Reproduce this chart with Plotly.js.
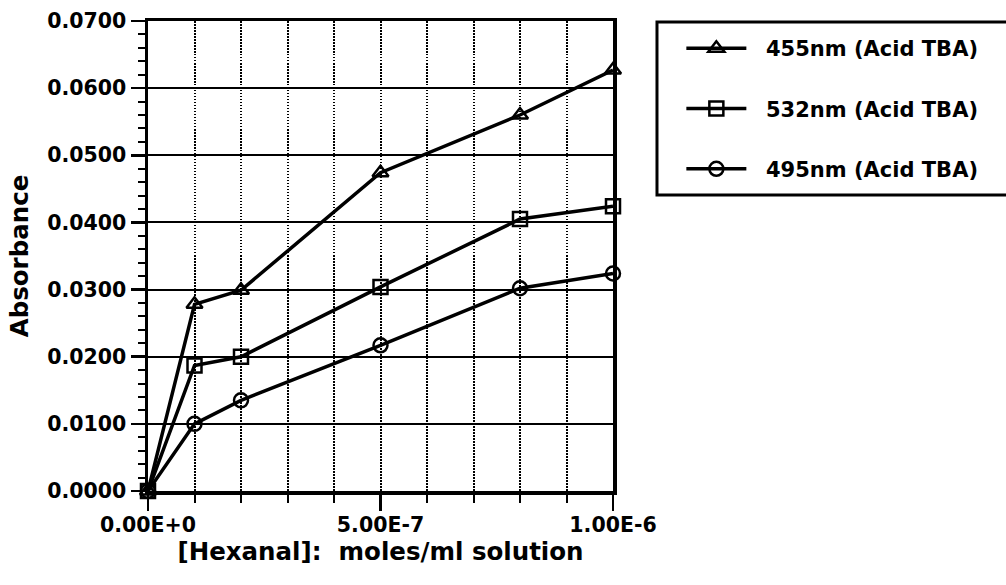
<!DOCTYPE html>
<html>
<head>
<meta charset="utf-8">
<script src="https://cdn.plot.ly/plotly-3.0.1.min.js"></script>
<style>
  html, body { margin: 0; padding: 0; background: #fff; }
  #chart { width: 1006px; height: 585px; }
</style>
</head>
<body>
<div id="chart"></div>
<script>
// Hexanal concentration (moles/ml solution)
const concentration = [0, 1e-7, 2e-7, 5e-7, 8e-7, 1e-6];

// Absorbance readings for each wavelength
const abs455 = [0, 0.0278, 0.0299, 0.0474, 0.0560, 0.0627];
const abs532 = [0, 0.0187, 0.0200, 0.0304, 0.0405, 0.0424];
const abs495 = [0, 0.0100, 0.0135, 0.0217, 0.0302, 0.0324];

const seriesNames = ['455nm (Acid TBA)', '532nm (Acid TBA)', '495nm (Acid TBA)'];

const xTickVals = [0, 5e-7, 1e-6];
const xTickText = ['0.00E+0', '5.00E-7', '1.00E-6'];

const LABEL_FONT = { family: 'DejaVu Sans', size: 20.5, color: '#000', weight: 'bold' };
const LEGEND_FONT = { family: 'DejaVu Sans', size: 21, color: '#000', weight: 'bold' };
const TITLE_FONT = { family: 'DejaVu Sans', size: 24.5, color: '#000', weight: 'bold' };

function series(y, name, symbol, group) {
  return {
    x: concentration,
    y: y,
    name: '\u00a0\u00a0' + name,
    legendgroup: group,
    type: 'scatter',
    mode: 'lines+markers',
    line: { color: '#000', width: 3.5 },
    marker: { symbol: symbol, size: 14, color: '#000', line: { color: '#000', width: 2.5 } },
    cliponaxis: false
  };
}

const traces = [
  series(abs455, seriesNames[0], 'triangle-up-open', 'a'),
  series(abs532, seriesNames[1], 'square-open', 'b'),
  series(abs495, seriesNames[2], 'circle-open', 'c')
];

const layout = {
  width: 1006,
  height: 585,
  margin: { l: 148, r: 393, t: 21, b: 94 },
  paper_bgcolor: '#fff',
  plot_bgcolor: '#fff',
  showlegend: true,
  legend: {
    x: 1.147,
    xanchor: 'left',
    y: 0.985,
    yanchor: 'top',
    bgcolor: 'rgba(0,0,0,0)',
    borderwidth: 0,
    font: LEGEND_FONT,
    tracegroupgap: 30,
    itemwidth: 60
  },
  xaxis: {
    range: [0, 1e-6],
    tickmode: 'array',
    tickvals: xTickVals,
    ticktext: xTickText,
    ticks: 'outside',
    ticklen: 16,
    tickwidth: 2.5,
    tickcolor: '#000',
    tickfont: LABEL_FONT,
    ticklabelstandoff: -3,
    showline: true,
    linecolor: '#000',
    linewidth: 3.5,
    mirror: true,
    zeroline: false,
    showgrid: true,
    gridcolor: '#000',
    gridwidth: 2,
    griddash: '1.5px,1.5px',
    minor: {
      tickmode: 'linear',
      tick0: 0,
      dtick: 1e-7,
      ticks: 'outside',
      ticklen: 8,
      tickwidth: 2,
      tickcolor: '#000',
      showgrid: true,
      gridcolor: '#000',
      gridwidth: 2,
      griddash: '1.5px,1.5px'
    },
    title: { text: '[Hexanal]: \u00a0moles/ml solution', font: TITLE_FONT, standoff: 4 }
  },
  yaxis: {
    range: [0, 0.07],
    tickmode: 'linear',
    tick0: 0,
    dtick: 0.01,
    tickformat: '.4f',
    ticks: 'outside',
    ticklen: 14,
    tickwidth: 2.5,
    tickcolor: '#000',
    tickfont: LABEL_FONT,
    showline: true,
    linecolor: '#000',
    linewidth: 3.5,
    mirror: true,
    zeroline: false,
    showgrid: true,
    gridcolor: '#000',
    gridwidth: 2,
    minor: {
      tickmode: 'linear',
      tick0: 0,
      dtick: 0.002,
      ticks: 'outside',
      ticklen: 7,
      tickwidth: 2,
      tickcolor: '#000',
      showgrid: false
    },
    title: { text: 'Absorbance', font: TITLE_FONT, standoff: 12 }
  },
  shapes: [
    {
      type: 'rect',
      xref: 'paper', yref: 'paper',
      x0: 1.0946, x1: 1.852,
      y0: 0.630, y1: 0.998,
      line: { color: '#000', width: 3 },
      fillcolor: 'rgba(0,0,0,0)'
    }
  ]
};

Plotly.newPlot('chart', traces, layout, { displayModeBar: false, staticPlot: true });
</script>
</body>
</html>
